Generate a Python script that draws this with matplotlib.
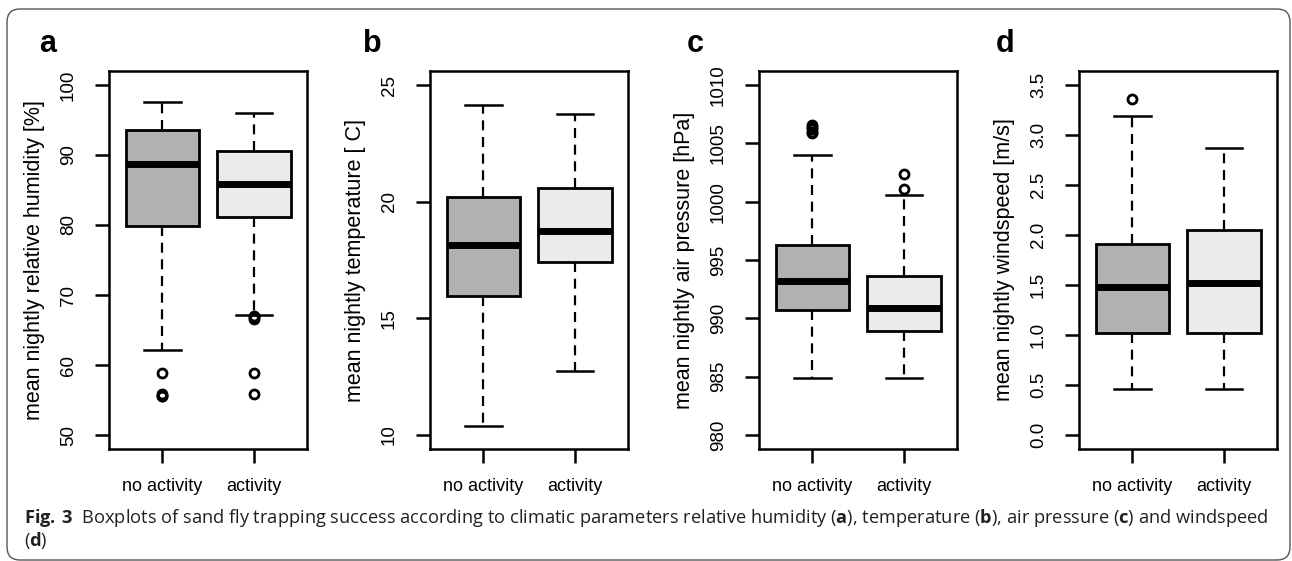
"""Boxplots of sand fly trapping success vs climatic parameters."""
import matplotlib
matplotlib.use('Agg')
import matplotlib.pyplot as plt
from matplotlib.patches import FancyBboxPatch
from matplotlib.transforms import IdentityTransform

plt.rcParams['font.family'] = ['Liberation Sans', 'DejaVu Sans']

groups = ["no activity", "activity"]
box_colors = ["#b1b1b1", "#ebebeb"]
panel_letters = ["a", "b", "c", "d"]
ylabels = [
    "mean nightly relative humidity [%]",
    "mean nightly temperature [ C]",
    "mean nightly air pressure [hPa]",
    "mean nightly windspeed [m/s]",
]
yticks = [
    [50, 60, 70, 80, 90, 100],
    [10, 15, 20, 25],
    [980, 985, 990, 995, 1000, 1005, 1010],
    [0.0, 0.5, 1.0, 1.5, 2.0, 2.5, 3.0, 3.5],
]
ytick_labels = [
    ["50", "60", "70", "80", "90", "100"],
    ["10", "15", "20", "25"],
    ["980", "985", "990", "995", "1000", "1005", "1010"],
    ["0.0", "0.5", "1.0", "1.5", "2.0", "2.5", "3.0", "3.5"],
]

# (whislo, q1, med, q3, whishi) per group, per panel
humidity_stats = [(62.1, 79.9, 88.7, 93.6, 97.6), (67.2, 81.2, 85.9, 90.6, 96.0)]
humidity_fliers = [[58.8, 55.8, 55.6, 55.5], [67.0, 66.8, 66.6, 58.8, 55.9]]
temperature_stats = [(10.4, 15.96, 18.14, 20.2, 24.13), (12.76, 17.41, 18.76, 20.6, 23.74)]
temperature_fliers = [[], []]
pressure_stats = [(984.9, 990.7, 993.2, 996.3, 1004.0), (984.9, 988.9, 990.9, 993.6, 1000.6)]
pressure_fliers = [[1006.6, 1006.4, 1006.2, 1006.0, 1005.9], [1002.4, 1001.1]]
wind_stats = [(0.46, 1.02, 1.48, 1.91, 3.19), (0.46, 1.02, 1.52, 2.05, 2.87)]
wind_fliers = [[3.36], []]

all_stats = [humidity_stats, temperature_stats, pressure_stats, wind_stats]
all_fliers = [humidity_fliers, temperature_fliers, pressure_fliers, wind_fliers]

caption = (r"$\mathbf{Fig.\,3}$  Boxplots of sand fly trapping success according to climatic "
           r"parameters relative humidity ($\mathbf{a}$), temperature ($\mathbf{b}$), "
           r"air pressure ($\mathbf{c}$) and windspeed")
caption2 = r"($\mathbf{d}$)"

W, H = 1292, 561
fig = plt.figure(figsize=(W / 100, H / 100), dpi=100)

# layout in pixels
ax_left = [109, 430, 759, 1079]
letter_x = [48, 372, 695, 1005]
ax_w, ax_top, ax_bot = 198, 71, 449

for i in range(4):
    ax = fig.add_axes([ax_left[i] / W, (H - ax_bot) / H, ax_w / W, (ax_bot - ax_top) / H])
    stats = []
    for g in range(2):
        lo, q1, med, q3, hi = all_stats[i][g]
        stats.append(dict(whislo=lo, q1=q1, med=med, q3=q3, whishi=hi,
                          fliers=all_fliers[i][g], label=groups[g]))
    bp = ax.bxp(stats, positions=[1, 2], widths=0.8, patch_artist=True,
                boxprops=dict(linewidth=2.0, edgecolor="black"),
                medianprops=dict(linewidth=5.0, color="black", solid_capstyle="butt"),
                whiskerprops=dict(linewidth=1.6, color="black", linestyle=(0, (4.5, 3.0))),
                capprops=dict(linewidth=1.8, color="black"),
                capwidths=0.4,
                flierprops=dict(marker="o", markersize=6.5, markerfacecolor="none",
                                markeredgecolor="black", markeredgewidth=2.0))
    for patch, c in zip(bp["boxes"], box_colors):
        patch.set_facecolor(c)
    lo_t, hi_t = yticks[i][0], yticks[i][-1]
    ext = (hi_t - lo_t) * 0.04
    ax.set_ylim(lo_t - ext, hi_t + ext)
    ax.set_xlim(0.42, 2.58)
    ax.set_yticks(yticks[i])
    ax.set_yticklabels(ytick_labels[i], rotation=90, va="center", fontsize=13.5)
    ax.set_xticks([1, 2])
    ax.set_xticklabels(groups, fontsize=13)
    ax.tick_params(axis="both", length=10, width=1.8, direction="out")
    ax.tick_params(axis="y", pad=13)
    ax.tick_params(axis="x", pad=11)
    for s in ax.spines.values():
        s.set_linewidth(1.8)
    ax.set_ylabel(ylabels[i], fontsize=15.5)
    ax.yaxis.set_label_coords(-0.325, 0.5)
    fig.text(letter_x[i] / W, (H - 52) / H, panel_letters[i], fontsize=22,
             fontweight="bold", ha="center", va="baseline")

# caption
plt.rcParams['mathtext.fontset'] = 'custom'
plt.rcParams['mathtext.bf'] = 'Open Sans:bold'
plt.rcParams['mathtext.rm'] = 'Open Sans'
cap = fig.text(24 / W, (H - 523) / H, caption, fontsize=13, family="Open Sans",
               color="#231f20", ha="left", va="baseline")
fig.canvas.draw()
w = cap.get_window_extent().width
cap.set_fontsize(13 * (1265 - 24) / w)
fig.text(24 / W, (H - 546) / H, caption2, fontsize=cap.get_fontsize(), family="Open Sans",
         color="#231f20", ha="left", va="baseline")

# rounded frame
frame = FancyBboxPatch((7, 1), 1283, 551, boxstyle="round,pad=0,rounding_size=13",
                       transform=IdentityTransform(), fill=False, edgecolor="#555555",
                       linewidth=1.0)
fig.add_artist(frame)

fig.savefig("out.png", dpi=100)
